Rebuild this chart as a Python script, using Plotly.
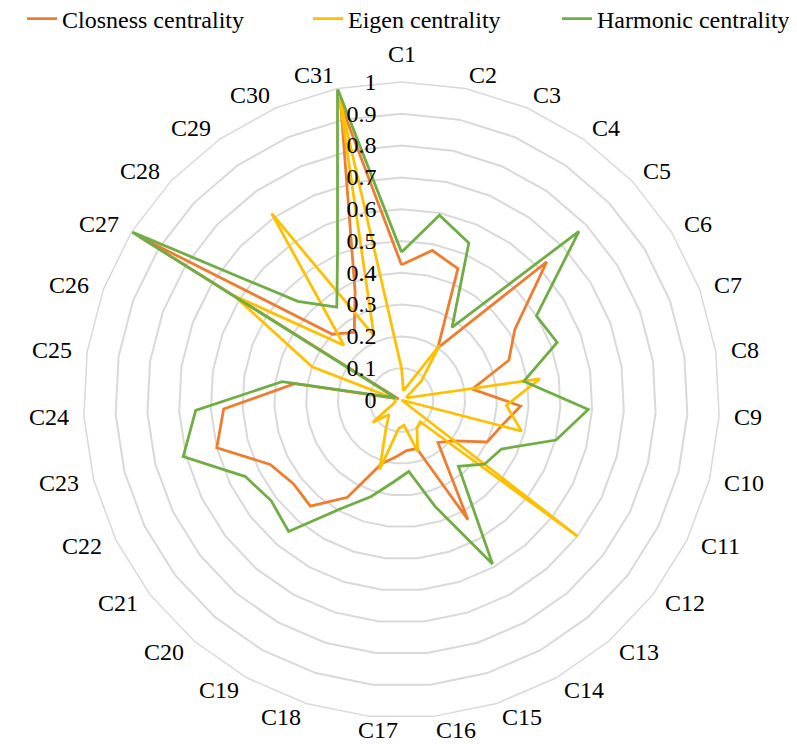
import math
import plotly.graph_objects as go

categories = [f"C{i}" for i in range(1, 32)]

closeness = [0.425, 0.48, 0.45, 0.20, 0.63, 0.42, 0.36, 0.225, 0.375, 0.325,
             0.30, 0.21, 0.176, 0.43, 0.16, 0.16, 0.18, 0.21, 0.35, 0.44,
             0.43, 0.46, 0.60, 0.56, 0.34, 0.01, 0.97, 0.30, 0.26, 0.37, 0.95]

eigen = [0.10, 0.03, 0.05, 0.21, 0.085, 0.02, 0.02, 0.44, 0.33, 0.39,
         0.0, 0.70, 0.09, 0.10, 0.17, 0.08, 0.09, 0.23, 0.10, 0.06,
         0.115, 0.03, 0.02, 0.02, 0.02, 0.30, 0.62, 0.25, 0.715, 0.22, 0.97]

harmonic = [0.465, 0.593, 0.537, 0.278, 0.77, 0.50, 0.522, 0.389, 0.588, 0.502,
            0.35, 0.33, 0.275, 0.59, 0.35, 0.226, 0.26, 0.318, 0.39, 0.545,
            0.518, 0.547, 0.709, 0.648, 0.38, 0.02, 1.0, 0.45, 0.356, 0.51, 1.0]

series = [
    ("Closness centrality", closeness, "#ED7D31", "legend", 14),
    ("Eigen centrality", eigen, "#FFC000", "legend2", 300),
    ("Harmonic centrality", harmonic, "#70AD47", "legend3", 549),
]

FONT = "Liberation Serif, Times New Roman, serif"
FS = 24
W, H = 797, 744
# page body has an 8px margin, so figure coords = screen coords - 8
cx, cy, R = 401.5 - 8, 400 - 8, 318
LABEL_GAP = 14

fig = go.Figure()
legends = {}
for name, vals, color, leg, lx in series:
    fig.add_trace(go.Scatterpolar(
        r=vals + vals[:1],
        theta=categories + categories[:1],
        mode="lines",
        name=name,
        legend=leg,
        line=dict(color=color, width=2.8),
    ))
    legends[leg] = dict(
        orientation="h", x=lx / W, y=1 - 11 / H,
        xanchor="left", yanchor="middle",
        font=dict(family=FONT, size=FS, color="black"),
        bgcolor="rgba(0,0,0,0)", borderwidth=0,
    )

# category labels placed around the outer ring (Excel-like anchoring)
annotations = []
n = len(categories)
for i, cat in enumerate(categories):
    th = math.radians(360.0 * i / n)
    s, c = math.sin(th), math.cos(th)
    x = cx + (R + LABEL_GAP) * s
    y = cy - (R + LABEL_GAP) * c
    if abs(s) < 0.01:
        xa, ya = "center", ("bottom" if c > 0 else "top")
    elif -0.15 < s < 0 and c < 0:
        # label just past the bottom sits nearly centred under its spoke
        xa, ya = "center", "middle"
        x += 10
    else:
        xa, ya = ("left" if s > 0 else "right"), "middle"
    annotations.append(dict(
        x=x / W, y=1 - y / H, xref="paper", yref="paper",
        text=cat, showarrow=False, xanchor=xa, yanchor=ya,
        font=dict(family=FONT, size=FS, color="black"),
        borderpad=0,
    ))

fig.update_layout(
    width=W, height=H,
    margin=dict(l=0, r=0, t=0, b=0, autoexpand=False),
    paper_bgcolor="white",
    plot_bgcolor="white",
    font=dict(family=FONT, size=FS, color="black"),
    showlegend=True,
    annotations=annotations,
    polar=dict(
        domain=dict(x=[(cx - R) / W, (cx + R) / W],
                    y=[(H - cy - R) / H, (H - cy + R) / H]),
        bgcolor="white",
        gridshape="linear",
        radialaxis=dict(
            range=[0, 1], dtick=0.1, tick0=0, angle=90,
            showline=False, ticks="outside", ticklen=16,
            tickcolor="rgba(0,0,0,0)", showgrid=True,
            gridcolor="#D9D9D9", gridwidth=1.5,
            tickangle=90,
            tickfont=dict(family=FONT, size=FS, color="black"),
            side="counterclockwise",
        ),
        angularaxis=dict(
            rotation=90, direction="clockwise",
            categoryorder="array", categoryarray=categories,
            showgrid=False, showline=True, linecolor="#D9D9D9", linewidth=1.5,
            ticks="", showticklabels=False,
        ),
    ),
    **legends,
)

fig.write_html("out.html")
